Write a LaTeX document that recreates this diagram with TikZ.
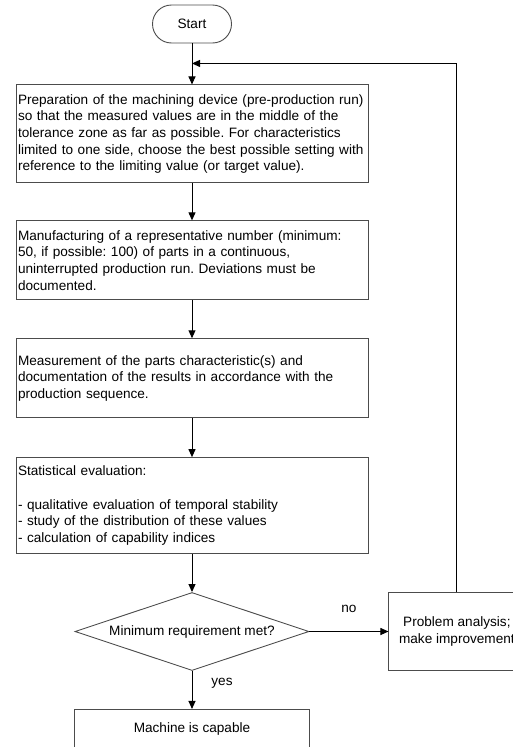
\documentclass[tikz,border=0pt]{standalone}
\usepackage{fontspec}
\setmainfont{Liberation Sans}
\frenchspacing
\usepackage{tikz}
\usetikzlibrary{positioning}
\usetikzlibrary{shapes.geometric, arrows.meta}
\tikzstyle{startstop} = [rectangle, rounded corners=19pt, minimum width=79pt, minimum height=38pt, draw=black!70, line width=0.9pt]
\tikzstyle{process} = [rectangle, text width=348pt, inner xsep=2pt, inner ysep=3pt, align=left, draw=black!70, line width=0.9pt]
\tikzstyle{decision} = [diamond, aspect=3, inner sep=0pt, minimum width=234pt, minimum height=78pt, draw=black!70, line width=0.9pt]
\tikzstyle{arrow} = [line width=1pt,-{Triangle[length=8pt,width=7pt]}]

\begin{document}
\begin{tikzpicture}[x=1pt,y=1pt,font=\fontsize{13.6}{16.7}\selectfont]
	\useasboundingbox (0,0) rectangle (512,-747);
	
	%Nodes
	\node [startstop] (start) at (192,-24) {Start};
	\node [process, minimum height=98pt, below=41pt of start] (prep) {Preparation of the machining device (pre-production run)\\so that the measured values are in the middle of the\\tolerance zone as far as possible. For characteristics\\limited to one side, choose the best possible setting with\\reference to the limiting value (or target value).};
	\node [process, minimum height=79pt, below=37pt of prep] (manufacture) {Manufacturing of a representative number (minimum:\\50, if possible: 100) of parts in a continuous,\\uninterrupted production run. Deviations must be\\documented.};
	\node [process, minimum height=79pt, below=38pt of manufacture] (measure) {Measurement of the parts characteristic(s) and\\documentation of the results in accordance with the\\production sequence.};
	\node [process, minimum height=96pt, below=39pt of measure] (evaluate) {Statistical evaluation:\\[16.7pt]- qualitative evaluation of temporal stability\\- study of the distribution of these values\\- calculation of capability indices};
	\node [decision, below=38pt of evaluate] (decide) {Minimum requirement met?};
	\node [rectangle, draw=black!70, line width=0.9pt, minimum width=136pt, minimum height=78pt, align=center, right=79pt of decide] (problem) {Problem analysis;\\make improvement};
	\node [rectangle, draw=black!70, line width=0.9pt, minimum width=235pt, minimum height=40pt, below=38pt of decide] (capable) {Machine is capable};
	
	%Coordinates
	\coordinate [below=20pt of start] (joinPt);
	
	%Arrows
	\draw[arrow] (start) -- (prep);
	\draw[arrow] (prep) -- (manufacture);
	\draw[arrow] (manufacture) -- (measure);
	\draw[arrow] (measure) -- (evaluate);
	\draw[arrow] (evaluate) -- (decide);
	\draw[arrow] (decide) -- node[yshift=23pt] (noLabel) {no} (problem);
	\draw[arrow] (decide) -- node[pos=0.32, xshift=30pt] (yesLabel) {yes} (capable);
	\draw[arrow] (problem.north) |- (joinPt);
\end{tikzpicture}
\end{document}
